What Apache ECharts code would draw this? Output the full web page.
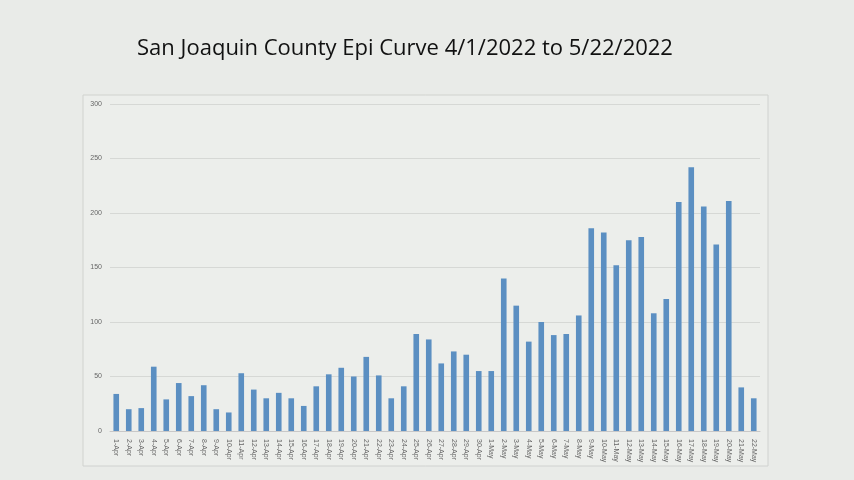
<!DOCTYPE html><html><head><meta charset="utf-8"><script src="https://cdn.jsdelivr.net/npm/echarts@6/dist/echarts.min.js"></script>
<style>body{margin:0;background:#e9ebe8}#c{width:854px;height:480px}</style></head><body><div id="c"></div><script>
const categories=[];
for(let d=1;d<=30;d++)categories.push(d+'-Apr');
for(let d=1;d<=22;d++)categories.push(d+'-May');
const cases=[34,20,21,59,29,44,32,42,20,17,53,38,30,35,30,23,41,52,58,50,68,51,30,41,89,84,62,73,70,55,
55,140,115,82,100,88,89,106,186,182,152,175,178,108,121,210,242,206,171,211,40,30];
const yTicks=[0,50,100,150,200,250,300];
const chart=echarts.init(document.getElementById('c'));
chart.setOption({
 backgroundColor:'#e9ebe8',
 title:{text:'San Joaquin County Epi Curve 4/1/2022 to 5/22/2022',left:400,top:33,textAlign:'center',textStyle:{fontFamily:'Open Sans',fontWeight:'normal',fontSize:22,color:'#111'}},
 graphic:[{type:'rect',shape:{x:83,y:95,width:685,height:371},style:{fill:'#eceeeb',stroke:'#d0d2cf',lineWidth:1},z:-1}],
 grid:{left:110,right:94,top:104,bottom:49},
 xAxis:{type:'category',data:categories,axisTick:{show:false},axisLine:{lineStyle:{color:'#c8c8c8'}},
  axisLabel:{rotate:-90,interval:0,fontSize:7,color:'#666'}},
 yAxis:{type:'value',min:0,max:300,interval:50,axisLabel:{fontSize:7,color:'#666',formatter:v=>yTicks.includes(v)?v:''},
  splitLine:{lineStyle:{color:'#d6d8d5'}}},
 series:[{type:'bar',data:cases,barWidth:'45%',itemStyle:{color:'#5b8fc2'}}]
});
</script></body></html>
